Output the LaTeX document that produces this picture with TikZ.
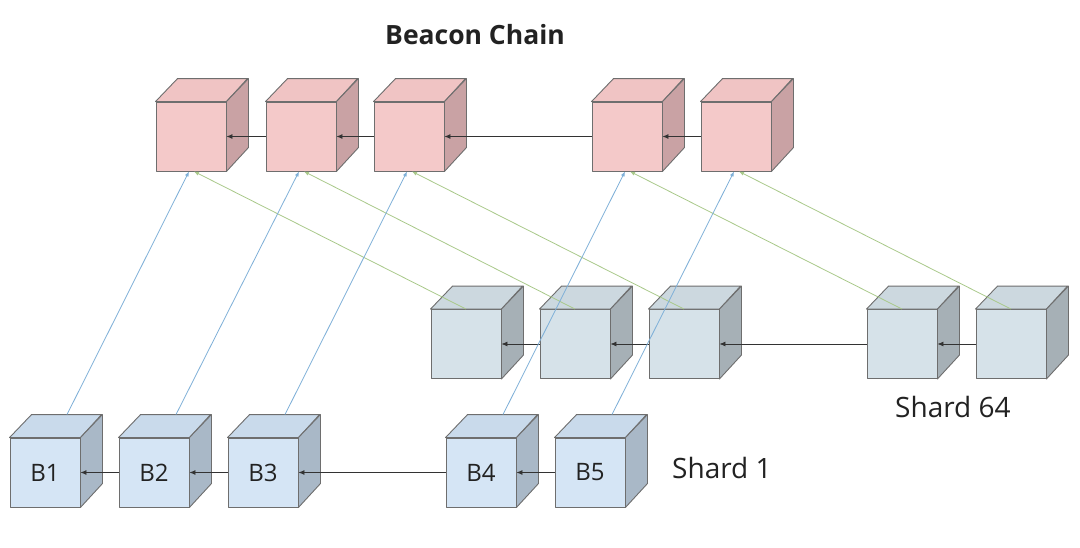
\documentclass[tikz,border=0pt]{standalone}
\usepackage{fontspec}
\setmainfont{Open Sans}
\usetikzlibrary{arrows.meta}
\definecolor{bF}{HTML}{F4C9C9}
\definecolor{bT}{HTML}{F0C4C4}
\definecolor{bS}{HTML}{C9A2A4}
\definecolor{oF}{HTML}{D5E5F5}
\definecolor{oT}{HTML}{C9DAEB}
\definecolor{oS}{HTML}{A9B8C7}
\definecolor{sF}{HTML}{D6E2E9}
\definecolor{sT}{HTML}{CCD8DF}
\definecolor{sS}{HTML}{A6B0B6}
\definecolor{edge}{HTML}{6E6E6E}
\definecolor{txt}{HTML}{222222}
\definecolor{bluel}{HTML}{7FB0D8}
\definecolor{greenl}{HTML}{A9C98A}
\newcommand\cubefaces[3]{%
  \filldraw[fill=#2,cubeedge] (#1.north west) -- ++(22,-23) -- ++(70,0) -- (#1.north east) -- cycle;
  \filldraw[fill=#3,cubeedge] (#1.north east) -- ++(22,-23) -- ++(0,69) -- (#1.south east) -- cycle;
}
\begin{document}
\begin{tikzpicture}[x=1pt,y=-1pt,
  cubeedge/.style={draw=edge,line width=0.9pt,line join=round},
  front/.style={cubeedge,minimum width=70pt,minimum height=69pt,inner sep=0pt,text=txt,font=\fontsize{24}{24}\selectfont},
  beacon/.style={front,fill=bF},
  shardone/.style={front,fill=oF},
  shardsf/.style={front,fill=sF},
  chainarrow/.style={draw=black!80,line width=0.8pt,-{Latex[length=6pt,width=5pt]}},
  blueline/.style={draw=bluel,line width=0.8pt,-{Latex[length=5pt,width=4pt]}},
  greenline/.style={draw=greenl,line width=0.8pt,-{Latex[length=5pt,width=4pt]}},
  label/.style={text=txt,inner sep=0pt,font=\fontsize{28}{28}\selectfont}]
\useasboundingbox (0,0) rectangle (1080,547);
\fill[white] (0,0) rectangle (1080,547);
% beacon chain
\foreach \n/\x in {b1/191,b2/301,b3/409,b4/627,b5/736}{
  \node[beacon] (\n) at (\x,136.5) {};
  \cubefaces{\n}{bT}{bS}
}
% shard 64
\foreach \n/\x in {t1/466,t2/575,t3/684,t4/902,t5/1011}{
  \node[shardsf] (\n) at (\x,344) {};
  \cubefaces{\n}{sT}{sS}
}
% shard 1
\foreach \n/\x/\l in {s1/45/B1,s2/154/B2,s3/263/B3,s4/481/B4,s5/590/B5}{
  \node[shardone] (\n) at (\x,472.5) {\l};
  \cubefaces{\n}{oT}{oS}
}
% chain arrows
\draw[chainarrow] (b2.west) -- (b1.east);
\draw[chainarrow] (b3.west) -- (b2.east);
\draw[chainarrow] (b4.west) -- (b3.east);
\draw[chainarrow] (b5.west) -- (b4.east);
\draw[chainarrow] (t2.west) -- (t1.east);
\draw[chainarrow] (t3.west) -- (t2.east);
\draw[chainarrow] (t4.west) -- (t3.east);
\draw[chainarrow] (t5.west) -- (t4.east);
\draw[chainarrow] (s2.west) -- (s1.east);
\draw[chainarrow] (s3.west) -- (s2.east);
\draw[chainarrow] (s4.west) -- (s3.east);
\draw[chainarrow] (s5.west) -- (s4.east);
% cross links
\foreach \i in {1,...,5}{
  \draw[greenline] (t\i.north) -- ([xshift=3pt]b\i.south);
  \draw[blueline] ([shift={(22,-23)}]s\i.north) -- ([xshift=-2pt]b\i.south);
}
% labels
\node[label,anchor=base,font=\fontsize{26.5}{26.5}\selectfont\bfseries] (title) at (475,44) {Beacon Chain};
\node[label,anchor=base west] (l1) at (672,478) {Shard 1};
\node[label,anchor=base west] (l64) at (895,417) {Shard 64};
\end{tikzpicture}
\end{document}
